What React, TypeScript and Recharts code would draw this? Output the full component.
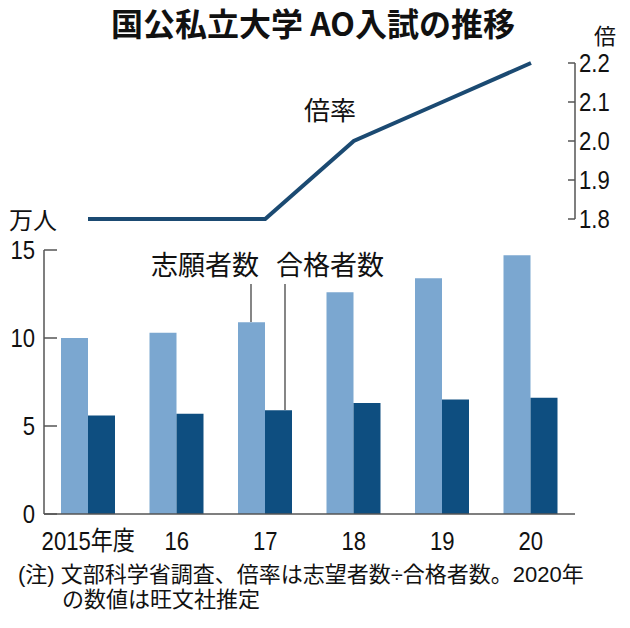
import React from 'react';
import {
  ComposedChart,
  Bar,
  Line,
  XAxis,
  YAxis,
} from 'recharts';

const years = ['2015年度', '16', '17', '18', '19', '20'];
const applicants = [10.0, 10.3, 10.9, 12.6, 13.4, 14.7];
const passers = [5.6, 5.7, 5.9, 6.3, 6.5, 6.6];
const ratio = [1.8, 1.8, 1.8, 2.0, 2.1, 2.2];
const countTicks = [0, 5, 10, 15];
const ratioTicks = [1.8, 1.9, 2.0, 2.1, 2.2];

const data = years.map((year, i) => ({
  year,
  applicants: applicants[i],
  passers: passers[i],
  ratio: ratio[i],
}));

const FONT = "'Liberation Sans Narrow', 'Liberation Sans', 'Noto Sans CJK JP', sans-serif";
const CJK = "'Noto Sans CJK JP', sans-serif";
const NOTE_FONT = "'Liberation Sans', 'Noto Sans CJK JP', sans-serif";
const AXIS = '#555';
const W = 630;
const H = 628;

interface TickProps {
  x?: number;
  y?: number;
  payload?: { value: number | string };
}

// tick marks point inward, labels sit outside; digits squeezed like a condensed face
const LeftTick = ({ x, y, payload }: TickProps) => {
  if (x === undefined || y === undefined || !payload) return null;
  return (
    <g>
      <line x1={x} x2={x + 13} y1={y} y2={y} stroke={AXIS} strokeWidth={1.5} />
      <text
        transform={`translate(${x - 9},${y + 9}) scale(0.85,1)`}
        textAnchor="end"
        fontSize={26}
        fill="#111"
        fontFamily={FONT}
      >
        {payload.value}
      </text>
    </g>
  );
};

const RightTick = ({ x, y, payload }: TickProps) => {
  if (x === undefined || y === undefined || !payload) return null;
  return (
    <g>
      <line x1={x - 7} x2={x} y1={y} y2={y} stroke={AXIS} strokeWidth={1.5} />
      <text
        transform={`translate(${x + 4},${y + 9}) scale(0.85,1)`}
        textAnchor="start"
        fontSize={26}
        fill="#111"
        fontFamily={FONT}
      >
        {Number(payload.value).toFixed(1)}
      </text>
    </g>
  );
};

const BottomTick = ({ x, y, payload }: TickProps) => {
  if (x === undefined || y === undefined || !payload) return null;
  return (
    <text
      transform={`translate(${x},${y + 36}) scale(0.85,1)`}
      textAnchor="middle"
      fontSize={26}
      fill="#111"
      fontFamily={FONT}
    >
      {payload.value}
    </text>
  );
};

export default function App() {
  return (
    <div style={{ position: 'absolute', left: 0, top: 0, width: W, height: H, background: '#fff' }}>
      {/* bars */}
      <div style={{ position: 'absolute', left: 0, top: 0 }}>
        <ComposedChart
          width={W}
          height={H}
          data={data}
          margin={{ top: 250, right: 55, left: 4, bottom: 74 }}
          barGap={0}
        >
          <XAxis
            dataKey="year"
            axisLine={{ stroke: AXIS, strokeWidth: 1.5 }}
            tickLine={false}
            tickSize={0}
            tickMargin={0}
            tick={<BottomTick />}
            interval={0}
            height={40}
          />
          <YAxis
            yAxisId="count"
            width={40}
            domain={[0, 15]}
            ticks={countTicks}
            axisLine={{ stroke: AXIS, strokeWidth: 1.5 }}
            tickLine={false}
            tickSize={0}
            tickMargin={0}
            tick={<LeftTick />}
          />
          <Bar yAxisId="count" dataKey="applicants" fill="#7ba7d0" barSize={27} isAnimationActive={false} />
          <Bar yAxisId="count" dataKey="passers" fill="#0e4e80" barSize={27} isAnimationActive={false} />
        </ComposedChart>
      </div>
      {/* ratio line */}
      <div style={{ position: 'absolute', left: 0, top: 0 }}>
        <ComposedChart
          width={W}
          height={240}
          data={data}
          margin={{ top: 63, right: 5, left: 44, bottom: 21 }}
        >
          <XAxis dataKey="year" hide padding={{ left: 44, right: 44 }} />
          <YAxis
            yAxisId="ratio"
            orientation="right"
            width={50}
            domain={[1.8, 2.2]}
            ticks={ratioTicks}
            axisLine={{ stroke: AXIS, strokeWidth: 1.5 }}
            tickLine={false}
            tickSize={0}
            tickMargin={0}
            tick={<RightTick />}
          />
          <Line
            yAxisId="ratio"
            dataKey="ratio"
            stroke="#1b4a72"
            strokeWidth={4}
            dot={false}
            isAnimationActive={false}
          />
        </ComposedChart>
      </div>
      {/* texts and leaders */}
      <svg width={W} height={H} style={{ position: 'absolute', left: 0, top: 0, pointerEvents: 'none' }}>
        <text x={313} y={36} textAnchor="middle" fontSize={32} fontWeight="bold" fill="#111" fontFamily={CJK}>
          国公私立大学 AO入試の推移
        </text>
        <text x={605} y={44} textAnchor="middle" fontSize={22} fill="#111" fontFamily={CJK}>倍</text>
        <text x={330} y={120} textAnchor="middle" fontSize={26} fill="#111" fontFamily={CJK}>倍率</text>
        <text x={33} y={229} textAnchor="middle" fontSize={24} fill="#111" fontFamily={CJK}>万人</text>
        <text x={205} y={275} textAnchor="middle" fontSize={27} fill="#111" fontFamily={CJK}>志願者数</text>
        <text x={330} y={275} textAnchor="middle" fontSize={27} fill="#111" fontFamily={CJK}>合格者数</text>
        <line x1={251} x2={251} y1={284} y2={322} stroke="#444" strokeWidth={1.3} />
        <line x1={285} x2={285} y1={284} y2={410} stroke="#444" strokeWidth={1.3} />
      </svg>
      {/* footnote */}
      <div
        style={{
          position: 'absolute',
          left: 18,
          top: 562,
          fontFamily: NOTE_FONT,
          fontSize: 22,
          lineHeight: '25px',
          color: '#111',
          whiteSpace: 'nowrap',
        }}
      >
        <div>(注) 文部科学省調査、倍率は志望者数÷合格者数。2020年</div>
        <div style={{ paddingLeft: 44 }}>の数値は旺文社推定</div>
      </div>
    </div>
  );
}
